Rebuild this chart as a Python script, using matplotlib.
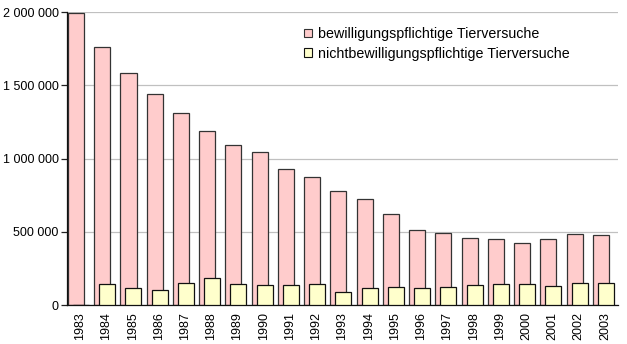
import matplotlib.pyplot as plt
from matplotlib.patches import Patch
from matplotlib.ticker import FuncFormatter

plt.rcParams['font.family'] = ['Liberation Sans', 'DejaVu Sans']

years = [str(y) for y in range(1983, 2004)]
bewilligungspflichtig = [
    1990000, 1759000, 1584000, 1438000, 1308000, 1185000, 1090000,
    1042000, 926000, 872000, 776000, 721000, 619000, 510000,
    489000, 455000, 448000, 421000, 448000, 483000, 476000,
]
nicht_bewilligungspflichtig = [
    0, 141000, 114000, 100000, 148000, 182000, 141000,
    134000, 134000, 141000, 87000, 114000, 121000, 114000,
    121000, 134000, 141000, 141000, 127000, 148000, 148000,
]

fig = plt.figure(figsize=(6.27, 3.44), dpi=100)
ax = fig.add_axes([67 / 627, 39 / 344, 551 / 627, 293 / 344])

x = list(range(len(years)))
w = 0.61
ax.bar([i - 0.156 for i in x], bewilligungspflichtig, width=w,
       color='#FFCCCC', edgecolor='#333333', linewidth=0.9, zorder=2)
ax.bar([i + 0.034 for i in x], nicht_bewilligungspflichtig, width=w,
       color='#FFFFCC', edgecolor='#111111', linewidth=0.9, zorder=3)

ax.set_xlim(-0.5, len(years) - 0.5)
ax.set_ylim(0, 2000000)
ax.set_yticks(range(0, 2000001, 500000))
ax.yaxis.set_major_formatter(FuncFormatter(lambda v, p: f"{int(v):,}".replace(",", " ")))
ax.set_xticks(x)
ax.set_xticklabels(years, rotation=90)
ax.tick_params(axis='x', length=0, pad=5, labelsize=9)
ax.tick_params(axis='y', length=4, width=0.9, pad=2, labelsize=9, color='#222222')

ax.grid(axis='y', color='#C0C0C0', linewidth=0.9, zorder=0)
ax.set_axisbelow(True)
for side in ('top', 'right'):
    ax.spines[side].set_visible(False)
for side in ('left', 'bottom'):
    ax.spines[side].set_color('#111111')
    ax.spines[side].set_linewidth(0.9)

handles = [
    Patch(facecolor='#FFCCCC', edgecolor='#333333', linewidth=0.8,
          label='bewilligungspflichtige Tierversuche'),
    Patch(facecolor='#FFFFCC', edgecolor='#111111', linewidth=0.8,
          label='nichtbewilligungspflichtige Tierversuche'),
]
ax.legend(handles=handles, loc='upper left', bbox_to_anchor=(0.42, 0.968),
          frameon=False, fontsize=10.3, handlelength=0.55, handleheight=0.55,
          handletextpad=0.4, labelspacing=0.4, borderaxespad=0)

fig.savefig('out.png', dpi=100)
